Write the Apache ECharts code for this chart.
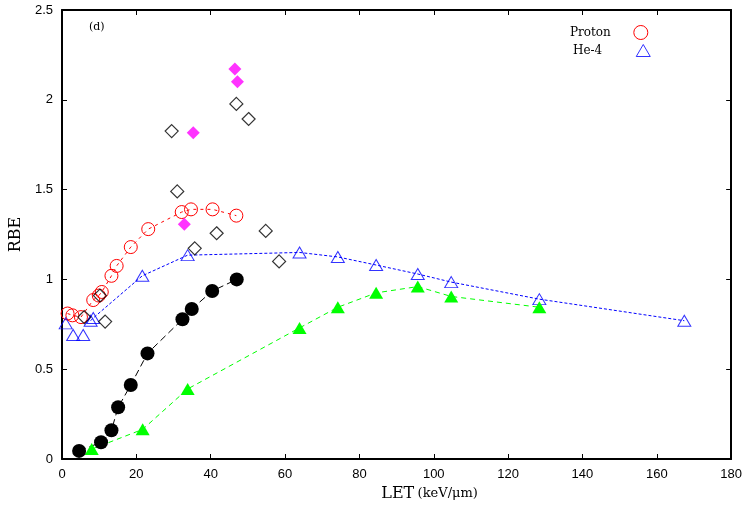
<!DOCTYPE html>
<html>
<head>
<meta charset="utf-8">
<script src="https://cdn.jsdelivr.net/npm/echarts@6/dist/echarts.min.js"></script>
<style>
  html, body { margin: 0; padding: 0; background: #fff; }
  #chart { width: 745px; height: 511px; }
</style>
</head>
<body>
<div id="chart"></div>
<script>
// values
const protonLet = [1.5, 2.8, 5.1, 8.4, 9.9, 10.7, 13.3, 14.7, 18.5, 23.2, 32.2, 34.7, 40.5, 46.9];
const protonRbe = [0.81, 0.80, 0.79, 0.885, 0.91, 0.93, 1.02, 1.075, 1.18, 1.28, 1.375, 1.39, 1.39, 1.355];

const heLet = [1.0, 3.0, 5.7, 7.7, 8.4, 21.6, 33.8, 63.9, 74.2, 84.5, 95.7, 104.7, 128.4, 167.4];
const heRbe = [0.755, 0.69, 0.69, 0.77, 0.785, 1.02, 1.135, 1.15, 1.125, 1.08, 1.03, 0.985, 0.89, 0.77];

const greenLet = [8.0, 21.7, 33.8, 63.9, 74.2, 84.5, 95.7, 104.7, 128.4];
const greenRbe = [0.055, 0.165, 0.39, 0.73, 0.845, 0.925, 0.96, 0.905, 0.845];

const blackLet = [4.6, 10.5, 13.3, 15.1, 18.5, 23.0, 32.4, 34.9, 40.4, 47.0];
const blackRbe = [0.045, 0.093, 0.16, 0.288, 0.412, 0.588, 0.778, 0.835, 0.935, 1.0];

const diaLet = [6.0, 10.2, 11.6, 29.5, 31.0, 35.7, 41.6, 46.9, 50.2, 54.8, 58.4];
const diaRbe = [0.79, 0.91, 0.765, 1.826, 1.49, 1.173, 1.257, 1.977, 1.893, 1.27, 1.10];

const magLet = [32.9, 35.3, 46.5, 47.2];
const magRbe = [1.307, 1.817, 2.171, 2.10];

const xTicks = [0, 180, 20];
const yTicks = [0, 2.5, 0.5];

const pairs = (xs, ys) => xs.map((x, i) => [x, ys[i]]);

const serif = 'DejaVu Serif';
const sans = 'Liberation Sans';

const frameAxis = {
    axisLine: { show: true, onZero: false, lineStyle: { color: '#000', width: 2 } },
    axisTick: { show: true, inside: true, length: 5, lineStyle: { color: '#000', width: 1 } },
    splitLine: { show: false },
};

const chart = echarts.init(document.getElementById('chart'));
chart.setOption({
    animation: false,
    backgroundColor: '#fff',
    grid: { left: 62, right: 13, top: 10, bottom: 52 },
    title: {
        text: '(d)',
        left: 84, top: 17,
        textStyle: { fontFamily: serif, fontSize: 11, fontWeight: 'normal', color: '#000' },
    },
    legend: [
        {
            left: 565, top: 20,
            align: 'right',
            itemWidth: 14, itemHeight: 14,
            data: [{ name: 'Proton', icon: 'circle',
                itemStyle: { color: 'rgba(0,0,0,0)', borderColor: '#ff0000', borderWidth: 1 } }],
            textStyle: { fontFamily: serif, fontSize: 12, color: '#000', padding: [0, 18, 0, 0] },
        },
        {
            left: 568, top: 39,
            align: 'right',
            itemWidth: 14, itemHeight: 12,
            data: [{ name: 'He-4', icon: 'triangle',
                itemStyle: { color: 'rgba(0,0,0,0)', borderColor: '#0000ff', borderWidth: 1 } }],
            textStyle: { fontFamily: serif, fontSize: 12, color: '#000', padding: [0, 29, 0, 0] },
        },
    ],
    xAxis: [
        {
            ...frameAxis,
            type: 'value',
            min: xTicks[0], max: xTicks[1], interval: xTicks[2],
            position: 'bottom',
            axisLabel: { fontFamily: sans, fontSize: 13, color: '#000', margin: 9 },
            name: '{a|LET} {b|(keV/μm)}',
            nameLocation: 'middle',
            nameGap: 25,
            nameTextStyle: {
                padding: [0, 0, 0, 66],
                rich: {
                    a: { fontFamily: serif, fontSize: 16, color: '#000' },
                    b: { fontFamily: serif, fontSize: 13, color: '#000' },
                },
            },
        },
        {
            ...frameAxis,
            type: 'value',
            min: xTicks[0], max: xTicks[1], interval: xTicks[2],
            position: 'top',
            axisLabel: { show: false },
        },
    ],
    yAxis: [
        {
            ...frameAxis,
            type: 'value',
            min: yTicks[0], max: yTicks[1], interval: yTicks[2],
            position: 'left',
            axisLabel: { fontFamily: sans, fontSize: 13, color: '#000', margin: 9 },
            name: 'RBE',
            nameLocation: 'middle',
            nameGap: 36,
            nameTextStyle: { fontFamily: serif, fontSize: 16, color: '#000' },
        },
        {
            ...frameAxis,
            type: 'value',
            min: yTicks[0], max: yTicks[1], interval: yTicks[2],
            position: 'right',
            axisLabel: { show: false },
        },
    ],
    series: [
        {
            name: 'Proton',
            type: 'line',
            data: pairs(protonLet, protonRbe),
            symbol: 'circle',
            symbolSize: 13,
            itemStyle: { color: 'rgba(0,0,0,0)', borderColor: '#ff0000', borderWidth: 1 },
            lineStyle: { color: '#ff0000', width: 1, type: [3, 4] },
            z: 3,
        },
        {
            type: 'line',
            data: pairs(heLet.slice(3), heRbe.slice(3)),
            showSymbol: false,
            symbol: 'none',
            lineStyle: { color: '#0000ff', width: 1, type: [3, 2] },
            z: 2,
        },
        {
            name: 'He-4',
            type: 'scatter',
            data: pairs(heLet, heRbe),
            symbol: 'triangle',
            symbolSize: [13, 11],
            itemStyle: { color: 'rgba(0,0,0,0)', borderColor: '#0000ff', borderWidth: 1 },
            z: 3,
        },
        {
            type: 'line',
            data: pairs(greenLet, greenRbe),
            symbol: 'triangle',
            symbolSize: [14, 12],
            itemStyle: { color: '#00ff00' },
            lineStyle: { color: '#00ff00', width: 1, type: [5, 4] },
            z: 3,
        },
        {
            type: 'line',
            data: pairs(blackLet, blackRbe),
            symbol: 'circle',
            symbolSize: 14,
            itemStyle: { color: '#000' },
            lineStyle: { color: '#000', width: 1, type: [7, 4] },
            z: 3,
        },
        {
            type: 'scatter',
            data: pairs(diaLet, diaRbe),
            symbol: 'diamond',
            symbolSize: 13,
            itemStyle: { color: 'rgba(0,0,0,0)', borderColor: '#000', borderWidth: 1.2 },
            z: 4,
        },
        {
            type: 'scatter',
            data: pairs(magLet, magRbe),
            symbol: 'diamond',
            symbolSize: 13,
            itemStyle: { color: '#ff00ff' },
            z: 4,
        },
    ],
});
</script>
</body>
</html>
